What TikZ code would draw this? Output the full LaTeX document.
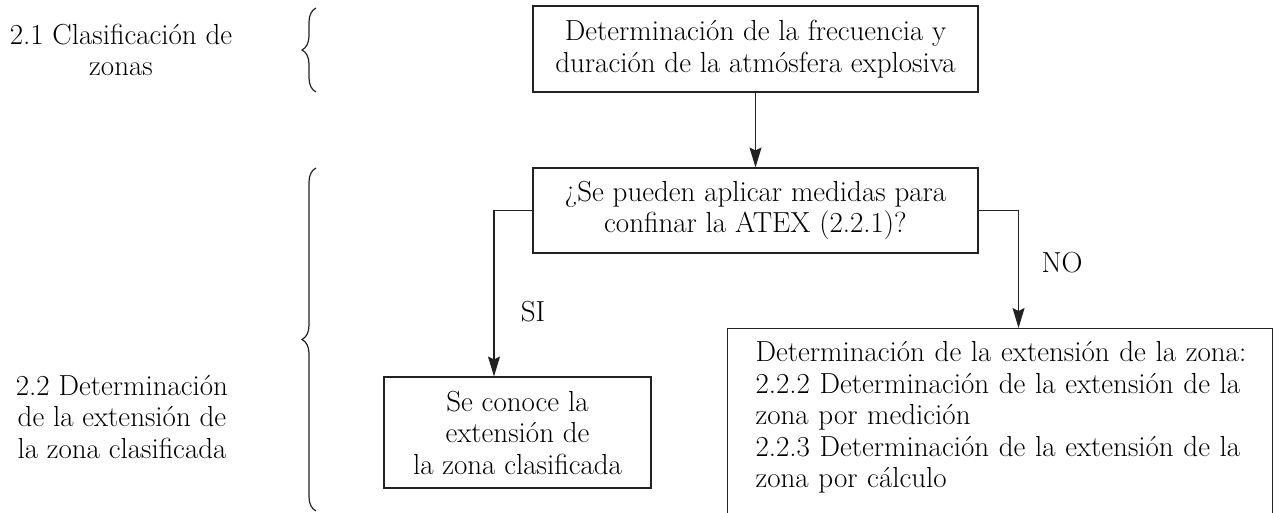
\documentclass[tikz,border=0pt]{standalone}
\usepackage{fontspec}
\usetikzlibrary{arrows.meta,decorations.pathreplacing}
\definecolor{ink}{HTML}{222222}
\begin{document}
\begin{tikzpicture}[x=1pt,y=-1pt,
  txt/.style={font=\fontsize{29}{31.5}\selectfont, text=black, inner sep=0pt, align=center},
  box/.style={draw=ink, line width=1.1pt, font=\fontsize{29}{31.5}\selectfont, text=black, align=center, inner sep=0pt},
  arr/.style={draw=ink, line width=1.1pt, -{Stealth[length=20pt,width=12pt,inset=3pt]}},
  brc/.style={draw=ink, line width=1.2pt, decorate, decoration={brace, amplitude=14pt}}]
\useasboundingbox (0,0) rectangle (1281,512);
% left labels
\node[txt] (l1) at (121,50) {2.1 Clasificación de\\zonas};
\node[txt] (l2) at (122,417) {2.2 Determinación\\de la extensión de\\la zona clasificada};
% braces
\draw[brc] (316,92) -- (316,8);
\draw[brc] (316,511) -- (316,168);
% boxes
\node[box, minimum width=445pt, minimum height=86pt] (b1) at (755.5,49)
  {Determinación de la frecuencia y\\duración de la atmósfera explosiva};
\node[box, minimum width=445pt, minimum height=85pt] (b2) at (755.5,210.5)
  {¿Se pueden aplicar medidas para\\confinar la ATEX (2.2.1)?};
\node[box, minimum width=267pt, minimum height=111pt] (b3) at (517.5,432.5)
  {Se conoce la\\extensión de\\la zona clasificada};
\node[box, anchor=north west, align=left, text width=489pt, inner xsep=28pt, inner ysep=13pt] (b4) at (727,328)
  {\mbox{Determinación de la extensión de la zona:}\\
   \mbox{2.2.2 Determinación de la extensión de la}\\
   \mbox{zona por medición}\\
   \mbox{2.2.3 Determinación de la extensión de la}\\
   \mbox{zona por cálculo}\rule[-60pt]{0pt}{1pt}};
% connectors
\draw[arr] (b1.south) -- (b2.north);
\draw[arr] (b2.west) -| ([xshift=-23.5pt]b3.north);
\draw[arr] (b2.east) -| ([xshift=18.5pt]b4.north);
% labels
\node[txt] (si) at (533,312) {SI};
\node[txt] (no) at (1062,263) {NO};
\end{tikzpicture}
\end{document}
